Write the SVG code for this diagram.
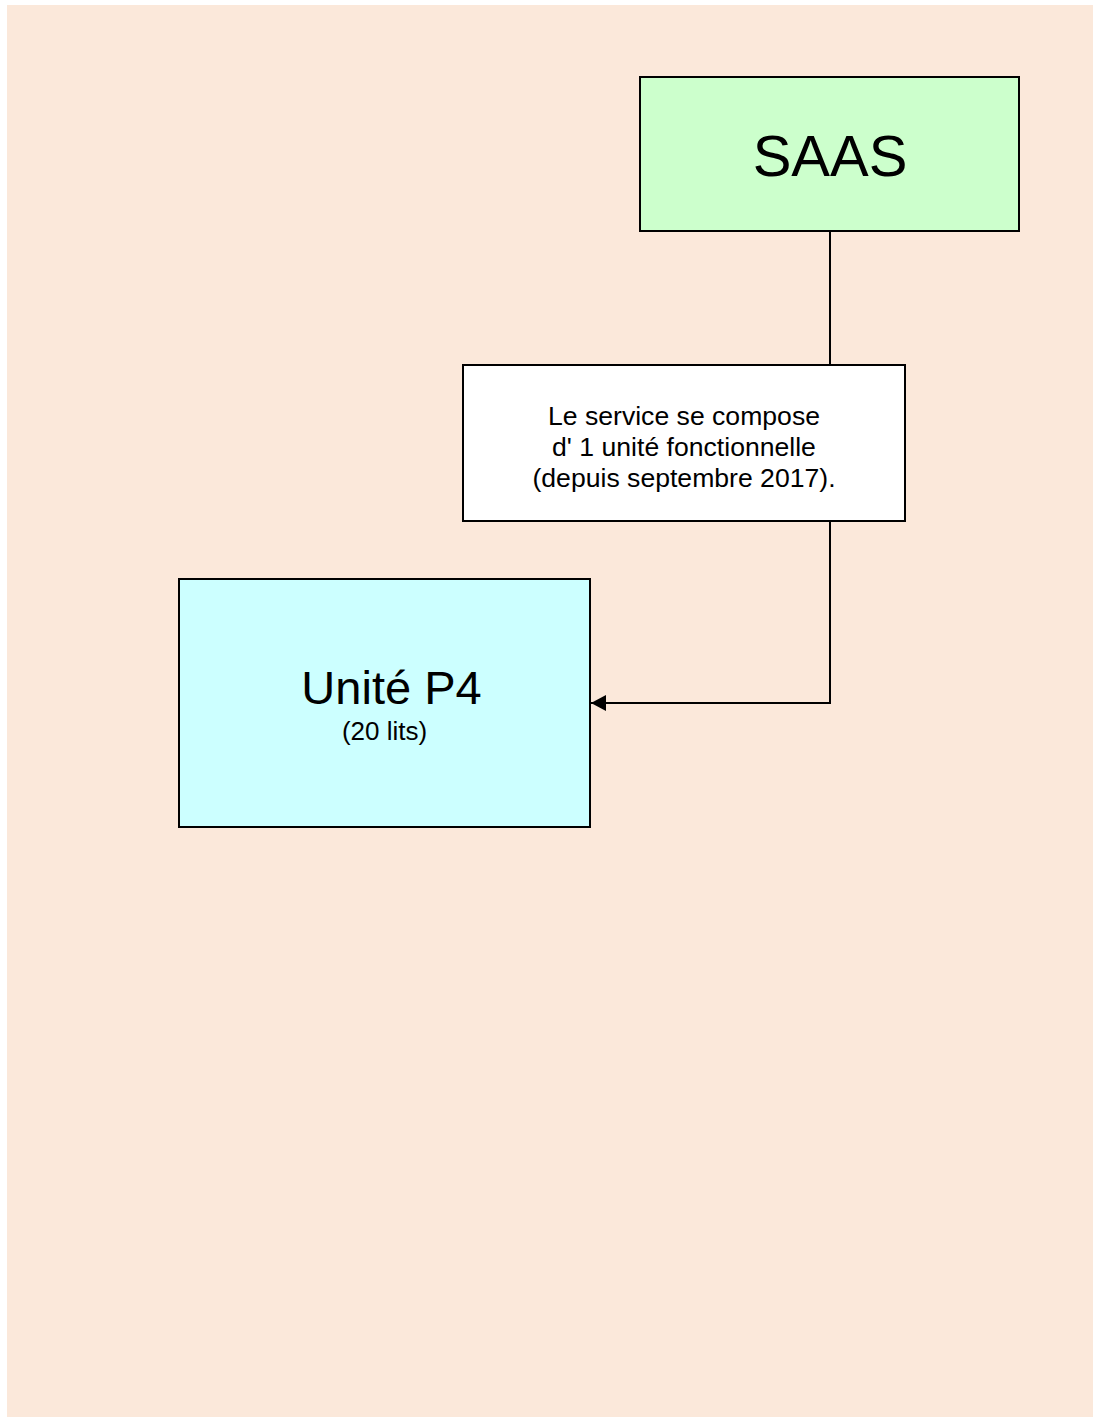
<svg xmlns="http://www.w3.org/2000/svg" width="1093" height="1417" viewBox="0 0 1093 1417">
<style>
text{font-family:"Liberation Sans",Arial,sans-serif;fill:#000;text-anchor:middle}
.box{stroke:#000;stroke-width:2}
.conn{fill:none;stroke:#000;stroke-width:2}
</style>
<defs>
<marker id="arr" markerUnits="userSpaceOnUse" markerWidth="16" markerHeight="16" refX="15" refY="8" orient="auto">
<path d="M0,0 L15,8 L0,16 Z" fill="#000"/>
</marker>
</defs>
<rect x="0" y="0" width="1093" height="1417" fill="#fff"/>
<rect x="7" y="5" width="1086" height="1412" fill="#FBE8DA"/>
<g id="connectors">
<line class="conn" x1="830" y1="231" x2="830" y2="365"/>
<path class="conn" d="M830,521 V703 H591" marker-end="url(#arr)"/>
</g>
<g id="saas">
<rect class="box" x="640" y="77" width="379" height="154" fill="#CCFFCC"/>
<text x="830" y="176" font-size="58">SAAS</text>
</g>
<g id="note">
<rect class="box" x="463" y="365" width="442" height="156" fill="#fff"/>
<text x="684" y="425" font-size="26.6">Le service se compose</text>
<text x="684" y="456" font-size="26.6">d' 1 unité fonctionnelle</text>
<text x="684" y="487" font-size="26.6">(depuis septembre 2017).</text>
</g>
<g id="unite-p4">
<rect class="box" x="179" y="579" width="411" height="248" fill="#CCFFFF"/>
<text x="391.5" y="704" font-size="47">Unité P4</text>
<text x="384.5" y="740" font-size="26">(20 lits)</text>
</g>
</svg>
